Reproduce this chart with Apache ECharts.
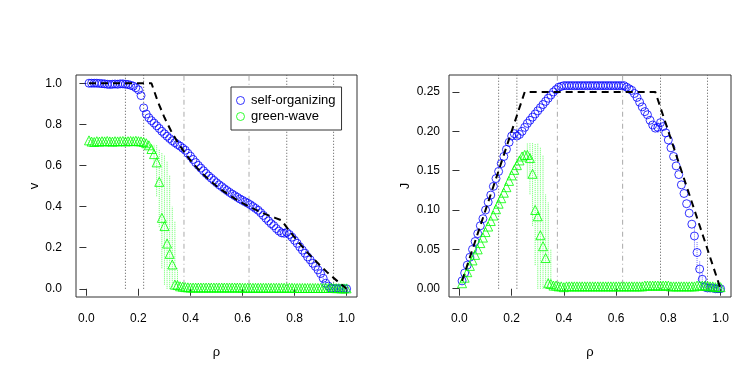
<!DOCTYPE html>
<html>
<head>
<meta charset="utf-8">
<script src="https://cdn.jsdelivr.net/npm/echarts@6/dist/echarts.min.js"></script>
<style>
  html, body { margin: 0; padding: 0; background: #fff; }
  #main { width: 747px; height: 374px; }
</style>
</head>
<body>
<div id="main"></div>
<script>
// densities (x values of every point)
var rho = [
  0.01,0.02,0.03,0.04,0.05,0.06,0.07,0.08,0.09,0.10,
  0.11,0.12,0.13,0.14,0.15,0.16,0.17,0.18,0.19,0.20,
  0.21,0.22,0.23,0.24,0.25,0.26,0.27,0.28,0.29,0.30,
  0.31,0.32,0.33,0.34,0.35,0.36,0.37,0.38,0.39,0.40,
  0.41,0.42,0.43,0.44,0.45,0.46,0.47,0.48,0.49,0.50,
  0.51,0.52,0.53,0.54,0.55,0.56,0.57,0.58,0.59,0.60,
  0.61,0.62,0.63,0.64,0.65,0.66,0.67,0.68,0.69,0.70,
  0.71,0.72,0.73,0.74,0.75,0.76,0.77,0.78,0.79,0.80,
  0.81,0.82,0.83,0.84,0.85,0.86,0.87,0.88,0.89,0.90,
  0.91,0.92,0.93,0.94,0.95,0.96,0.97,0.98,0.99,1.00
];

// velocity v, self-organizing
var selfV = [
  1.000,1.000,1.000,1.000,0.999,0.998,0.997,0.995,0.994,0.995,
  0.996,0.995,0.997,0.997,0.995,0.994,0.990,0.986,0.978,0.968,
  0.940,0.880,0.850,0.832,0.818,0.806,0.793,0.780,0.766,0.754,
  0.742,0.731,0.720,0.711,0.702,0.694,0.684,0.674,0.659,0.645,
  0.629,0.614,0.600,0.587,0.574,0.561,0.549,0.538,0.527,0.516,
  0.506,0.497,0.487,0.478,0.469,0.461,0.453,0.445,0.437,0.430,
  0.423,0.416,0.409,0.400,0.391,0.382,0.370,0.357,0.343,0.330,
  0.317,0.307,0.293,0.281,0.272,0.270,0.274,0.264,0.251,0.236,
  0.221,0.204,0.188,0.173,0.155,0.141,0.124,0.109,0.092,0.074,
  0.051,0.027,0.013,0.002,0.001,0.001,0.001,0.000,0.000,0.000
];

// velocity v, green-wave
var greenV = [
  0.722,0.716,0.714,0.718,0.716,0.718,0.717,0.719,0.717,0.716,
  0.718,0.717,0.718,0.719,0.717,0.718,0.719,0.718,0.720,0.718,
  0.717,0.714,0.708,0.698,0.680,0.655,0.615,0.520,0.345,0.305,
  0.220,0.170,0.118,0.020,0.018,0.012,0.010,0.008,0.007,0.006,
  0.006,0.006,0.006,0.006,0.006,0.006,0.006,0.006,0.006,0.006,
  0.006,0.006,0.006,0.006,0.006,0.006,0.006,0.006,0.006,0.005,
  0.005,0.005,0.005,0.005,0.005,0.005,0.005,0.005,0.005,0.005,
  0.005,0.005,0.005,0.005,0.005,0.005,0.005,0.005,0.005,0.004,
  0.004,0.004,0.004,0.004,0.004,0.004,0.004,0.004,0.004,0.004,
  0.004,0.004,0.004,0.004,0.004,0.003,0.003,0.002,0.002,0.002
];

// flow J, self-organizing
var selfJ = [
  0.010,0.020,0.030,0.040,0.050,0.060,0.070,0.080,0.089,0.100,
  0.110,0.119,0.130,0.140,0.149,0.159,0.168,0.177,0.186,0.194,
  0.197,0.194,0.196,0.200,0.205,0.210,0.214,0.218,0.222,0.226,
  0.230,0.234,0.238,0.242,0.246,0.250,0.253,0.256,0.257,0.258,
  0.258,0.258,0.258,0.258,0.258,0.258,0.258,0.258,0.258,0.258,
  0.258,0.258,0.258,0.258,0.258,0.258,0.258,0.258,0.258,0.258,
  0.258,0.258,0.258,0.256,0.254,0.252,0.248,0.243,0.237,0.231,
  0.225,0.221,0.214,0.208,0.204,0.205,0.211,0.206,0.198,0.189,
  0.179,0.168,0.156,0.145,0.132,0.121,0.108,0.096,0.082,0.067,
  0.046,0.025,0.012,0.002,0.001,0.001,0.001,0.000,0.000,0.000
];

// flow J, green-wave
var greenJ = [
  0.007,0.014,0.021,0.029,0.036,0.043,0.050,0.058,0.065,0.072,
  0.079,0.086,0.093,0.101,0.108,0.115,0.122,0.129,0.137,0.144,
  0.151,0.157,0.163,0.168,0.170,0.170,0.166,0.146,0.100,0.092,
  0.068,0.054,0.039,0.007,0.006,0.004,0.004,0.003,0.003,0.002,
  0.003,0.003,0.003,0.003,0.003,0.003,0.003,0.003,0.003,0.003,
  0.003,0.003,0.003,0.003,0.003,0.003,0.003,0.003,0.003,0.003,
  0.003,0.003,0.003,0.003,0.003,0.003,0.003,0.003,0.003,0.003,
  0.004,0.004,0.004,0.004,0.004,0.004,0.004,0.004,0.004,0.004,
  0.003,0.003,0.003,0.003,0.003,0.003,0.003,0.003,0.003,0.003,
  0.004,0.004,0.004,0.004,0.004,0.003,0.003,0.002,0.002,0.002
];

// error bars (green-wave)
var greenErrRho = [0.01, 0.26, 0.27, 0.28, 0.29, 0.30, 0.31, 0.32, 0.33, 0.34, 0.35];
var greenVLo    = [0.700, 0.60, 0.45, 0.30, 0.10, 0.02, 0.00, 0.00, 0.00, 0.00, 0.00];
var greenVHi    = [0.740, 0.70, 0.70, 0.68, 0.66, 0.65, 0.62, 0.55, 0.40, 0.33, 0.10];
var greenJLo    = [0.006, 0.14, 0.12, 0.08, 0.03, 0.00, 0.00, 0.00, 0.00, 0.00, 0.00];
var greenJHi    = [0.008, 0.185, 0.185, 0.185, 0.185, 0.185, 0.18, 0.17, 0.12, 0.11, 0.05];

// error bars (self-organizing)
var selfErrRho = [0.76, 0.77, 0.90, 0.91, 0.92, 0.93];
var selfVLo    = [0.260, 0.260, 0.055, 0.027, 0.009, 0.003];
var selfVHi    = [0.280, 0.283, 0.089, 0.066, 0.038, 0.022];
var selfJLo    = [0.198, 0.200, 0.050, 0.025, 0.008, 0.003];
var selfJHi    = [0.212, 0.218, 0.080, 0.060, 0.035, 0.020];

// theory curves (dashed)
var theoryRhoV = [0.01,0.25,0.275,0.30,0.325,0.35,0.375,0.40,0.425,0.45,0.475,0.50,0.525,0.55,0.575,0.60,
                  0.625,0.65,0.675,0.70,0.725,0.75,0.775,0.80,0.825,0.85,0.875,0.90,0.925,0.95,0.975,1.00];
var theoryV    = [1.0,1.0,0.909,0.833,0.769,0.714,0.667,0.625,0.588,0.556,0.526,0.500,0.476,0.455,0.435,0.417,
                  0.400,0.385,0.370,0.357,0.345,0.333,0.290,0.250,0.212,0.176,0.143,0.111,0.081,0.053,0.026,0.0];
var theoryRhoJ = [0.01, 0.25, 0.75, 1.00];
var theoryJ    = [0.01, 0.25, 0.25, 0.00];

// vertical reference lines
var refRho = [0.15, 0.22, 0.375, 0.625, 0.77, 0.95];

var BLUE = '#0000ff', GREEN = '#00ff00';
var FONT = 'Liberation Sans, Arial, Helvetica, sans-serif';
var tickVals = [0, 0.2, 0.4, 0.6, 0.8, 1.0];

function pairs(xs, ys) {
    return xs.map(function (x, i) { return [x, ys[i]]; });
}
function triples(xs, lo, hi) {
    return xs.map(function (x, i) { return [x, lo[i], hi[i]]; });
}

// dotted vertical error bars
function errBars(idx, xs, lo, hi, color) {
    return {
        type: 'custom',
        xAxisIndex: idx, yAxisIndex: idx,
        silent: true,
        z: 1,
        encode: { x: 0, y: [1, 2] },
        data: triples(xs, lo, hi),
        renderItem: function (params, api) {
            var a = api.coord([api.value(0), api.value(1)]);
            var b = api.coord([api.value(0), api.value(2)]);
            return {
                type: 'line',
                shape: { x1: a[0], y1: a[1], x2: b[0], y2: b[1] },
                style: { stroke: color, lineWidth: 1, lineDash: [1, 1] }
            };
        }
    };
}

function refSeries(idx, top) {
    return refRho.map(function (x, i) {
        var dotdash = (i === 2 || i === 3);
        return {
            type: 'line',
            xAxisIndex: idx, yAxisIndex: idx,
            silent: true,
            symbol: 'none',
            z: 1,
            data: [[x, 0], [x, top]],
            lineStyle: dotdash
                ? { color: '#aaaaaa', width: 1, type: [1, 3, 5, 3] }
                : { color: '#555555', width: 1, type: [1, 2] }
        };
    });
}

function xAxisFor(idx) {
    return {
        gridIndex: idx,
        type: 'value',
        min: -0.04, max: 1.04,
        name: 'ρ',
        nameLocation: 'middle',
        nameGap: 49,
        nameTextStyle: { fontFamily: FONT, fontSize: 13, color: '#000' },
        axisLine: { show: false },
        splitLine: { show: false },
        axisTick: { show: true, length: 7, customValues: tickVals, lineStyle: { color: '#333' } },
        axisLabel: {
            customValues: tickVals,
            margin: 16,
            fontFamily: FONT, fontSize: 12, color: '#000',
            formatter: function (v) { return v.toFixed(1); }
        }
    };
}

var myChart = echarts.init(document.getElementById('main'));

var option = {
    animation: false,
    backgroundColor: '#fff',
    grid: [
        { left: 76, top: 75, width: 281, height: 222, show: true, borderColor: '#333', borderWidth: 1, backgroundColor: 'transparent' },
        { left: 449, top: 75, width: 282, height: 222, show: true, borderColor: '#333', borderWidth: 1, backgroundColor: 'transparent' }
    ],
    legend: {
        left: 231, top: 87,
        orient: 'vertical',
        selectedMode: false,
        backgroundColor: '#fff',
        borderColor: '#333', borderWidth: 1, borderRadius: 0,
        padding: [7, 6, 7, 5],
        itemGap: 3,
        itemWidth: 11, itemHeight: 8,
        textStyle: { fontFamily: FONT, fontSize: 13, color: '#000' },
        data: [
            { name: 'self-organizing', icon: 'circle', itemStyle: { color: 'transparent', borderColor: BLUE, borderWidth: 1 } },
            { name: 'green-wave', icon: 'circle', itemStyle: { color: 'transparent', borderColor: GREEN, borderWidth: 1 } }
        ]
    },
    xAxis: [xAxisFor(0), xAxisFor(1)],
    yAxis: [
        {
            gridIndex: 0, type: 'value', min: -0.04, max: 1.04,
            name: 'v', nameLocation: 'middle', nameGap: 28,
            nameTextStyle: { fontFamily: FONT, fontSize: 13, color: '#000' },
            axisLine: { show: false }, splitLine: { show: false },
            axisTick: { show: true, length: 7, customValues: tickVals, lineStyle: { color: '#333' } },
            axisLabel: {
                customValues: tickVals, margin: 14,
                fontFamily: FONT, fontSize: 12, color: '#000',
                formatter: function (v) { return v.toFixed(1); }
            }
        },
        {
            gridIndex: 1, type: 'value', min: -0.0105, max: 0.2715,
            name: 'J', nameLocation: 'middle', nameGap: 37,
            nameTextStyle: { fontFamily: FONT, fontSize: 13, color: '#000' },
            axisLine: { show: false }, splitLine: { show: false },
            axisTick: { show: true, length: 7, customValues: [0, 0.05, 0.1, 0.15, 0.2, 0.25], lineStyle: { color: '#333' } },
            axisLabel: {
                customValues: [0, 0.05, 0.1, 0.15, 0.2, 0.25], margin: 9,
                fontFamily: FONT, fontSize: 12, color: '#000',
                formatter: function (v) { return v.toFixed(2); }
            }
        }
    ],
    series: [].concat(
        refSeries(0, 1.04),
        refSeries(1, 0.2715),
        [
            errBars(0, greenErrRho, greenVLo, greenVHi, '#66ff66'),
            errBars(0, selfErrRho, selfVLo, selfVHi, '#6f6fff'),
            errBars(1, greenErrRho, greenJLo, greenJHi, '#66ff66'),
            errBars(1, selfErrRho, selfJLo, selfJHi, '#6f6fff'),
            {
                name: 'self-organizing', type: 'scatter', xAxisIndex: 0, yAxisIndex: 0,
                symbol: 'circle', symbolSize: 8, z: 3,
                itemStyle: { color: 'transparent', borderColor: BLUE, borderWidth: 1 },
                data: pairs(rho, selfV)
            },
            {
                name: 'green-wave', type: 'scatter', xAxisIndex: 0, yAxisIndex: 0,
                symbol: 'triangle', symbolSize: 9, z: 3,
                itemStyle: { color: 'transparent', borderColor: GREEN, borderWidth: 1 },
                data: pairs(rho, greenV)
            },
            {
                name: 'self-organizing', type: 'scatter', xAxisIndex: 1, yAxisIndex: 1,
                symbol: 'circle', symbolSize: 8, z: 3,
                itemStyle: { color: 'transparent', borderColor: BLUE, borderWidth: 1 },
                data: pairs(rho, selfJ)
            },
            {
                name: 'green-wave', type: 'scatter', xAxisIndex: 1, yAxisIndex: 1,
                symbol: 'triangle', symbolSize: 9, z: 3,
                itemStyle: { color: 'transparent', borderColor: GREEN, borderWidth: 1 },
                data: pairs(rho, greenJ)
            },
            {
                type: 'line', xAxisIndex: 0, yAxisIndex: 0, silent: true,
                symbol: 'none', z: 4,
                lineStyle: { color: '#000', width: 2, type: [7, 5] },
                data: pairs(theoryRhoV, theoryV)
            },
            {
                type: 'line', xAxisIndex: 1, yAxisIndex: 1, silent: true,
                symbol: 'none', z: 4,
                lineStyle: { color: '#000', width: 2, type: [7, 5] },
                data: pairs(theoryRhoJ, theoryJ)
            }
        ]
    )
};

myChart.setOption(option);
</script>
</body>
</html>
